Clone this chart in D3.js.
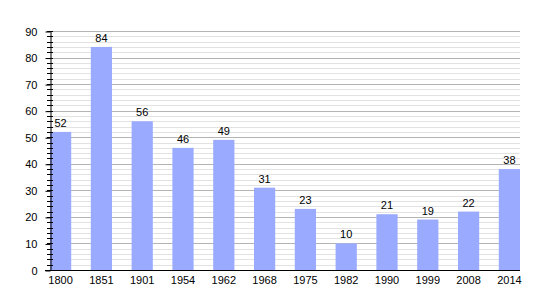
<!DOCTYPE html>
<html>
<head>
<meta charset="utf-8">
<script src="https://cdn.jsdelivr.net/npm/d3@7"></script>
<style>
  body { margin: 0; background: #fff; }
  svg { font-family: "Liberation Sans", Arial, sans-serif; }
</style>
</head>
<body>
<div id="vis"></div>
<script>
const FRAME_WIDTH = 550;
const FRAME_HEIGHT = 300;
const MARGINS = {left: 50, right: 30, top: 31, bottom: 30};

// data
const years = ["1800", "1851", "1901", "1954", "1962", "1968", "1975", "1982", "1990", "1999", "2008", "2014"];
const population = [52, 84, 56, 46, 49, 31, 23, 10, 21, 19, 22, 38];
const yTicks = [0, 10, 20, 30, 40, 50, 60, 70, 80, 90];
const yMinor = d3.range(0, 91, 2);

const VIS_WIDTH = FRAME_WIDTH - MARGINS.left - MARGINS.right;
const VIS_HEIGHT = FRAME_HEIGHT - MARGINS.top - MARGINS.bottom;

const svg = d3.select("#vis")
    .append("svg")
    .attr("width", FRAME_WIDTH)
    .attr("height", FRAME_HEIGHT);

const X_SCALE = d3.scaleBand()
    .domain(years)
    .range([MARGINS.left, MARGINS.left + VIS_WIDTH])
    .paddingInner(0.48)
    .paddingOuter(0)
    .align(0);

const Y_SCALE = d3.scaleLinear()
    .domain([0, 90])
    .range([MARGINS.top + VIS_HEIGHT, MARGINS.top]);

// minor grid
svg.append("g")
    .selectAll("line")
    .data(yMinor.filter(d => d % 10 !== 0))
    .enter()
    .append("line")
    .attr("x1", MARGINS.left)
    .attr("x2", MARGINS.left + VIS_WIDTH)
    .attr("y1", d => Math.round(Y_SCALE(d)) + 0.5)
    .attr("y2", d => Math.round(Y_SCALE(d)) + 0.5)
    .attr("stroke", "#e2e2e2");

// major grid
svg.append("g")
    .selectAll("line")
    .data(yTicks.filter(d => d > 0))
    .enter()
    .append("line")
    .attr("x1", MARGINS.left)
    .attr("x2", MARGINS.left + VIS_WIDTH)
    .attr("y1", d => Math.round(Y_SCALE(d)) + 0.5)
    .attr("y2", d => Math.round(Y_SCALE(d)) + 0.5)
    .attr("stroke", "#b4b4b4");

// bars
svg.append("g")
    .selectAll("rect")
    .data(population)
    .enter()
    .append("rect")
    .attr("x", (d, i) => X_SCALE(years[i]))
    .attr("y", d => Y_SCALE(d))
    .attr("width", X_SCALE.bandwidth())
    .attr("height", d => Y_SCALE(0) - Y_SCALE(d))
    .attr("fill", "#99aaff");

// value labels
svg.append("g")
    .selectAll("text")
    .data(population)
    .enter()
    .append("text")
    .attr("x", (d, i) => X_SCALE(years[i]) + X_SCALE.bandwidth() / 2)
    .attr("y", d => Y_SCALE(d) - 5)
    .attr("text-anchor", "middle")
    .attr("font-size", "11px")
    .attr("fill", "#000")
    .text(d => d);

// minor ticks on y axis
svg.append("g")
    .selectAll("line")
    .data(yMinor)
    .enter()
    .append("line")
    .attr("x1", MARGINS.left - 3)
    .attr("x2", MARGINS.left + 3)
    .attr("y1", d => Math.round(Y_SCALE(d)) + 0.5)
    .attr("y2", d => Math.round(Y_SCALE(d)) + 0.5)
    .attr("stroke", "#000");

// y axis
const yAxis = svg.append("g")
    .attr("transform", "translate(" + (MARGINS.left + 0.5) + ",0.5)")
    .call(d3.axisLeft(Y_SCALE).tickValues(yTicks).tickSize(5).tickSizeOuter(0).tickPadding(8))
    .attr("font-size", "11px")
    .attr("font-family", "Liberation Sans, Arial, sans-serif");

// x axis
const xAxis = svg.append("g")
    .attr("transform", "translate(0," + (Math.round(Y_SCALE(0)) + 0.5) + ")")
    .call(d3.axisBottom(X_SCALE).tickSize(0).tickSizeOuter(0).tickPadding(6))
    .attr("font-size", "11px")
    .attr("font-family", "Liberation Sans, Arial, sans-serif");

xAxis.select(".domain")
    .attr("d", "M" + (MARGINS.left - 5) + ",0H" + (MARGINS.left + VIS_WIDTH));
</script>
</body>
</html>
